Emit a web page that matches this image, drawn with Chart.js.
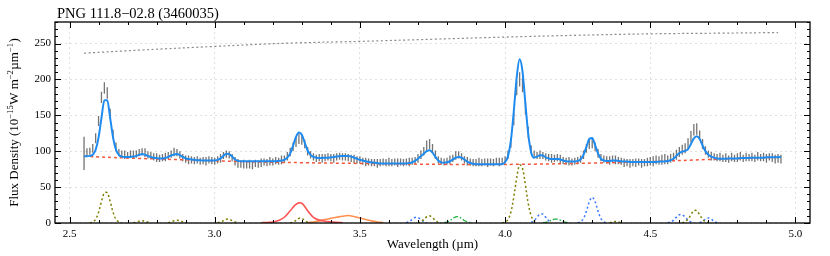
<!DOCTYPE html>
<html>
<head>
<meta charset="utf-8">
<script src="https://cdn.jsdelivr.net/npm/chart.js@4.4.1/dist/chart.umd.min.js"></script>
<style>
  html, body { margin: 0; padding: 0; background: #fff; }
</style>
</head>
<body>
<canvas id="spectrumChart" width="830" height="256"></canvas>
<script>
"use strict";

// Observed spectrum grid (µm)
const wavelength = [
  2.55, 2.56, 2.57, 2.58, 2.59, 2.60, 2.61, 2.62, 2.63, 2.64,
  2.65, 2.66, 2.67, 2.68, 2.69, 2.70, 2.71, 2.72, 2.73, 2.74,
  2.75, 2.76, 2.77, 2.78, 2.79, 2.80, 2.81, 2.82, 2.83, 2.84,
  2.85, 2.86, 2.87, 2.88, 2.89, 2.90, 2.91, 2.92, 2.93, 2.94,
  2.95, 2.96, 2.97, 2.98, 2.99, 3.00, 3.01, 3.02, 3.03, 3.04,
  3.05, 3.06, 3.07, 3.08, 3.09, 3.10, 3.11, 3.12, 3.13, 3.14,
  3.15, 3.16, 3.17, 3.18, 3.19, 3.20, 3.21, 3.22, 3.23, 3.24,
  3.25, 3.26, 3.27, 3.28, 3.29, 3.30, 3.31, 3.32, 3.33, 3.34,
  3.35, 3.36, 3.37, 3.38, 3.39, 3.40, 3.41, 3.42, 3.43, 3.44,
  3.45, 3.46, 3.47, 3.48, 3.49, 3.50, 3.51, 3.52, 3.53, 3.54,
  3.55, 3.56, 3.57, 3.58, 3.59, 3.60, 3.61, 3.62, 3.63, 3.64,
  3.65, 3.66, 3.67, 3.68, 3.69, 3.70, 3.71, 3.72, 3.73, 3.74,
  3.75, 3.76, 3.77, 3.78, 3.79, 3.80, 3.81, 3.82, 3.83, 3.84,
  3.85, 3.86, 3.87, 3.88, 3.89, 3.90, 3.91, 3.92, 3.93, 3.94,
  3.95, 3.96, 3.97, 3.98, 3.99, 4.00, 4.01, 4.02, 4.03, 4.04,
  4.05, 4.06, 4.07, 4.08, 4.09, 4.10, 4.11, 4.12, 4.13, 4.14,
  4.15, 4.16, 4.17, 4.18, 4.19, 4.20, 4.21, 4.22, 4.23, 4.24,
  4.25, 4.26, 4.27, 4.28, 4.29, 4.30, 4.31, 4.32, 4.33, 4.34,
  4.35, 4.36, 4.37, 4.38, 4.39, 4.40, 4.41, 4.42, 4.43, 4.44,
  4.45, 4.46, 4.47, 4.48, 4.49, 4.50, 4.51, 4.52, 4.53, 4.54,
  4.55, 4.56, 4.57, 4.58, 4.59, 4.60, 4.61, 4.62, 4.63, 4.64,
  4.65, 4.66, 4.67, 4.68, 4.69, 4.70, 4.71, 4.72, 4.73, 4.74,
  4.75, 4.76, 4.77, 4.78, 4.79, 4.80, 4.81, 4.82, 4.83, 4.84,
  4.85, 4.86, 4.87, 4.88, 4.89, 4.90, 4.91, 4.92, 4.93, 4.94,
  4.95
];

// Measured flux and its 1-sigma error
const fluxObs = [
  97, 99, 100, 104, 118, 142, 175, 188, 181, 152,
  124, 106, 98, 96, 95, 94, 96, 95, 96, 98,
  99, 98, 95, 94, 92, 91, 90, 91, 92, 94,
  96, 99, 98, 95, 91, 89, 88, 88, 87, 88,
  86, 87, 86, 88, 87, 86, 88, 90, 94, 96,
  95, 91, 86, 83, 82, 82, 81, 82, 80, 83,
  82, 84, 85, 84, 86, 85, 87, 86, 88, 89,
  93, 99, 106, 113, 117, 116, 110, 100, 95, 92,
  90, 91, 90, 91, 92, 91, 90, 92, 93, 92,
  92, 91, 90, 89, 88, 88, 86, 85, 85, 84,
  84, 83, 84, 85, 84, 85, 84, 85, 84, 85,
  84, 85, 85, 86, 87, 90, 95, 100, 108, 110,
  104, 95, 88, 86, 85, 86, 88, 90, 94, 95,
  92, 88, 86, 85, 84, 84, 85, 84, 85, 84,
  85, 84, 86, 85, 86, 88, 95, 112, 145, 188,
  200, 192, 160, 126, 102, 96, 94, 95, 94, 92,
  91, 90, 90, 91, 89, 87, 86, 86, 85, 86,
  87, 89, 95, 104, 110, 111, 106, 97, 91, 89,
  88, 87, 89, 88, 87, 86, 84, 84, 83, 84,
  84, 85, 83, 84, 85, 86, 86, 88, 87, 88,
  89, 88, 90, 92, 95, 99, 102, 104, 110, 120,
  130, 131, 122, 110, 101, 96, 93, 92, 91, 92,
  90, 91, 89, 92, 90, 91, 93, 90, 92, 91,
  92, 90, 93, 91, 92, 90, 92, 91, 89, 90,
  89
];

const fluxErr = [
  23, 5, 5, 6, 7, 7, 8, 8, 8, 7,
  6, 6, 5, 5, 6, 5, 5, 6, 5, 5,
  5, 6, 5, 5, 5, 6, 5, 5, 6, 5,
  5, 6, 5, 5, 5, 5, 6, 5, 5, 5,
  5, 5, 6, 5, 5, 5, 5, 6, 5, 5,
  5, 5, 6, 6, 5, 6, 5, 6, 5, 5,
  5, 6, 5, 5, 6, 5, 5, 5, 6, 5,
  6, 6, 6, 7, 7, 7, 6, 6, 5, 5,
  5, 5, 6, 5, 5, 5, 6, 5, 5, 5,
  5, 5, 5, 6, 5, 5, 5, 6, 5, 5,
  5, 6, 5, 5, 5, 6, 5, 5, 6, 5,
  5, 5, 6, 5, 5, 6, 6, 6, 7, 7,
  6, 6, 5, 5, 5, 5, 6, 5, 6, 5,
  5, 5, 6, 5, 5, 5, 6, 5, 5, 6,
  5, 5, 5, 6, 5, 5, 6, 7, 9, 10,
  10, 10, 9, 8, 6, 5, 5, 6, 5, 5,
  5, 6, 5, 5, 6, 5, 5, 6, 5, 5,
  5, 5, 6, 6, 7, 7, 6, 6, 5, 5,
  5, 6, 5, 6, 5, 5, 6, 5, 6, 5,
  6, 5, 6, 5, 6, 6, 7, 6, 6, 7,
  7, 6, 6, 6, 7, 7, 7, 7, 8, 8,
  8, 8, 7, 7, 6, 5, 6, 5, 5, 6,
  5, 6, 5, 6, 5, 6, 6, 5, 6, 5,
  6, 5, 6, 5, 6, 6, 5, 6, 6, 6,
  6
];

// Total model fit on the same grid
const fluxFit = [
  93, 93, 93.5, 95, 102, 119, 146, 171, 171, 146,
  119, 102, 95, 92.5, 92, 92, 92, 92.5, 93.5, 95,
  96, 95, 93.5, 92, 91, 90.5, 90, 90, 90.5, 92,
  94, 95.5, 96, 94.5, 92, 90, 89, 88.5, 88, 87.5,
  87.5, 87, 87, 87, 87, 87, 88, 90, 93.5, 96.5,
  96, 92.5, 88.5, 86.5, 86, 86, 86, 86, 86, 86,
  86, 86, 86, 86, 86, 86, 86, 86.5, 87, 88,
  91, 97, 108, 120, 126, 123, 112, 101, 95, 92,
  91, 90.5, 90.5, 91, 91, 91.5, 92, 92.5, 93, 93.5,
  93.5, 93.5, 92.5, 91, 89.5, 88, 87, 86, 85, 84.5,
  84, 83.5, 83, 83, 83, 83, 83, 83, 83, 83,
  83, 83, 83.5, 84.5, 86.5, 89.5, 93, 96.5, 100, 101.5,
  98, 92, 87, 84.5, 84, 84.5, 86, 88.5, 91, 92,
  91, 88.5, 85.5, 83.5, 82.5, 82, 82, 82, 82, 82,
  82, 82, 82, 82, 82, 85, 93, 115, 156, 203,
  228, 211, 166, 123, 98, 91, 92.5, 94.5, 94, 91.5,
  90, 89, 89, 89.5, 88.5, 87, 86, 85.5, 85.5, 85.5,
  86.5, 88.5, 95, 106, 117, 118.5, 108.5, 97, 89.5, 87,
  86.5, 86.5, 87, 87, 86.5, 86, 85.5, 85.5, 85, 85,
  85, 85, 85, 85, 85, 85, 85, 85, 85.5, 85.5,
  86, 86.5, 87.5, 89.5, 93.5, 97.5, 99.5, 100.5, 103, 110,
  118, 121, 117, 108, 100, 95, 92.5, 91, 90, 89.5,
  89.5, 89.5, 90, 90, 90, 90, 90.5, 90.5, 90.5, 90.5,
  91, 91, 91, 91, 91, 91.5, 91.5, 91.5, 91.5, 91.5,
  92
];

// Dust continuum (dashed red)
const contWave = [2.55, 2.7, 2.9, 3.1, 3.3, 3.5, 3.7, 3.9, 4.1, 4.3, 4.5, 4.7, 4.95];
const contFlux = [93, 90.5, 88, 85.5, 84, 83, 82, 81.5, 82, 83.5, 85.5, 88.5, 91.5];

// Stellar / blackbody curve (grey dotted)
const bbWave = [2.55, 2.75, 3.0, 3.25, 3.5, 3.75, 4.0, 4.25, 4.5, 4.75, 4.94];
const bbFlux = [236.5, 241, 246, 250.5, 253, 256, 259, 261.5, 263.5, 264.5, 265.3];

// H recombination lines (olive dotted), null breaks the line
const oliveWave = [
  2.57, 2.58, 2.59, 2.60, 2.61, 2.62, 2.63, 2.64, 2.65, 2.66, 2.67, 2.68, 2.70,
  2.72, 2.73, 2.74, 2.75, 2.76, 2.77, 2.78, 2.80,
  2.84, 2.85, 2.86, 2.87, 2.88, 2.89, 2.90, 2.95,
  3.01, 3.02, 3.03, 3.04, 3.05, 3.06, 3.07, 3.08, 3.15,
  3.26, 3.27, 3.28, 3.29, 3.30, 3.31, 3.32, 3.33, 3.50,
  3.70, 3.71, 3.72, 3.73, 3.74, 3.75, 3.76, 3.77, 3.78, 3.90,
  3.99, 4.00, 4.01, 4.02, 4.03, 4.04, 4.05, 4.06, 4.07, 4.08, 4.09, 4.10, 4.11, 4.25,
  4.36, 4.37, 4.38, 4.39, 4.40, 4.50,
  4.61, 4.62, 4.63, 4.64, 4.65, 4.66, 4.67, 4.68, 4.69, 4.70
];
const oliveFlux = [
  0.2, 1.3, 5.2, 15, 30, 42, 42, 30, 15, 5.2, 1.3, 0.2, null,
  0.3, 1.2, 2.4, 3, 2.4, 1.2, 0.3, null,
  0.4, 1.6, 3.2, 4, 3.2, 1.6, 0.4, null,
  0.4, 1.4, 3.3, 5.2, 5.2, 3.3, 1.4, 0.4, null,
  0.2, 1.1, 3.6, 6.5, 6.5, 3.6, 1.1, 0.2, null,
  0.4, 1.8, 4.9, 8.7, 10, 7.3, 3.4, 1, 0.2, null,
  0.2, 1.1, 4.8, 15.3, 36.3, 63, 81, 76, 52.5, 26.6, 9.9, 2.7, 0.55, null,
  0.5, 1.5, 2, 1.5, 0.5, null,
  0.35, 1.6, 5.3, 11.5, 17.1, 17.1, 11.5, 5.3, 1.6, 0.35
];

// Other ionic lines (blue dotted)
const blueWave = [
  3.66, 3.67, 3.68, 3.69, 3.70, 3.71, 3.72, 3.73, 3.90,
  4.09, 4.10, 4.11, 4.12, 4.13, 4.14, 4.15, 4.16, 4.20,
  4.25, 4.26, 4.27, 4.28, 4.29, 4.30, 4.31, 4.32, 4.33, 4.34, 4.35, 4.50,
  4.56, 4.57, 4.58, 4.59, 4.60, 4.61, 4.62, 4.63, 4.64, 4.65, 4.655,
  4.67, 4.68, 4.69, 4.70, 4.71, 4.72, 4.73
];
const blueFlux = [
  0.5, 2, 4.9, 7.6, 7.6, 4.9, 2, 0.5, null,
  0.9, 3.2, 7.9, 12.3, 12.3, 7.9, 3.2, 0.9, null,
  0.3, 1.6, 6.2, 16.5, 29.6, 36, 29.6, 16.5, 6.2, 1.6, 0.3, null,
  0.4, 1.4, 4.1, 8.2, 11.5, 11.5, 8.2, 4.1, 1.4, 0.4, null,
  0.5, 2.2, 5.2, 7, 5.2, 2.2, 0.5
];

// H2 lines (green dash-dot)
const greenWave = [
  3.79, 3.80, 3.81, 3.82, 3.83, 3.84, 3.85, 3.86, 3.87, 3.88, 4.00,
  4.13, 4.14, 4.15, 4.16, 4.17, 4.18, 4.19, 4.20, 4.21, 4.22
];
const greenFlux = [
  0.4, 1.4, 3.4, 6.4, 8.7, 8.7, 6.4, 3.4, 1.4, 0.4, null,
  0.25, 0.8, 2.1, 3.9, 5.3, 5.3, 3.9, 2.1, 0.8, 0.25
];

// 3.3 µm aromatic feature (red) and 3.4 µm aliphatic plateau (orange)
const aromWave = [3.16, 3.18, 3.20, 3.22, 3.24, 3.26, 3.27, 3.28, 3.29, 3.30,
  3.31, 3.32, 3.33, 3.34, 3.35, 3.36, 3.38, 3.40, 3.42, 3.44];
const aromFlux = [0.3, 0.8, 1.5, 3.5, 8, 17, 22, 26, 28, 27.5,
  23, 17, 12, 8, 5.5, 4, 2.5, 1.6, 1, 0.5];
const aliphWave = [3.32, 3.34, 3.36, 3.38, 3.40, 3.42, 3.44, 3.46, 3.48, 3.50,
  3.52, 3.54, 3.56, 3.58];
const aliphFlux = [0.5, 1.5, 3, 5, 6.5, 8, 9.5, 10.5, 9, 7, 5, 3, 1.5, 0.5];

// Axis ticks
const xTickValues = [2.5, 3.0, 3.5, 4.0, 4.5, 5.0];
const yTickValues = [0, 50, 100, 150, 200, 250];

const titleText = "PNG 111.8\u221202.8 (3460035)";
const xTitleText = "Wavelength (\u00b5m)";

const serif = "'Liberation Serif', 'DejaVu Serif', serif";

// Pair up x and y lists for Chart.js
const toPoints = (xs, ys) => xs.map((x, i) => ({ x, y: ys[i] }));

// Vertical error bars as separate little segments
const errorSegments = [];
wavelength.forEach((w, i) => {
  errorSegments.push({ x: w, y: fluxObs[i] - fluxErr[i] });
  errorSegments.push({ x: w, y: fluxObs[i] + fluxErr[i] });
  errorSegments.push({ x: w, y: null });
});

// Frame with inward ticks on all sides, plus title and y label
const framePlugin = {
  id: "frame",
  afterDraw(chart) {
    const { ctx, chartArea: a } = chart;
    const xs = chart.scales.x;
    const ys = chart.scales.y;
    ctx.save();

    ctx.strokeStyle = "#000";
    ctx.lineWidth = 1;
    ctx.beginPath();
    // x ticks every 0.1, major every 0.5
    for (let k = 25; k <= 50; k++) {
      const px = Math.round(xs.getPixelForValue(k / 10)) + 0.5;
      const len = k % 5 === 0 ? 6 : 3;
      ctx.moveTo(px, a.bottom); ctx.lineTo(px, a.bottom - len);
      ctx.moveTo(px, a.top); ctx.lineTo(px, a.top + len);
    }
    // y ticks every 10, major every 50
    for (let v = 0; v <= 280; v += 10) {
      const py = Math.round(ys.getPixelForValue(v)) + 0.5;
      const len = v % 50 === 0 ? 6 : 3;
      ctx.moveTo(a.left, py); ctx.lineTo(a.left + len, py);
      ctx.moveTo(a.right, py); ctx.lineTo(a.right - len, py);
    }
    ctx.stroke();

    ctx.lineWidth = 1.3;
    ctx.strokeRect(a.left, a.top, a.right - a.left, a.bottom - a.top);

    // Title
    ctx.fillStyle = "#000";
    ctx.textAlign = "left";
    ctx.textBaseline = "alphabetic";
    ctx.font = "14.5px " + serif;
    ctx.fillText(titleText, a.left + 2, 18);

    // x axis title
    ctx.textAlign = "center";
    ctx.font = "13px " + serif;
    ctx.fillText(xTitleText, (a.left + a.right) / 2, 248);

    // y axis title with superscripts
    const parts = [
      ["Flux Density (10", false],
      ["\u221215", true],
      ["W m", false],
      ["\u22122", true],
      ["\u00b5m", false],
      ["\u22121", true],
      [")", false]
    ];
    const big = "13px " + serif;
    const small = "8.5px " + serif;
    let total = 0;
    parts.forEach(([t, sup]) => {
      ctx.font = sup ? small : big;
      total += ctx.measureText(t).width + (sup ? 0.5 : 0);
    });
    ctx.translate(18, (a.top + a.bottom) / 2);
    ctx.rotate(-Math.PI / 2);
    ctx.textAlign = "left";
    let x = -total / 2;
    parts.forEach(([t, sup]) => {
      ctx.font = sup ? small : big;
      ctx.fillText(t, x, sup ? -5 : 0);
      x += ctx.measureText(t).width + (sup ? 0.5 : 0);
    });
    ctx.restore();
  }
};

const gridDash = [2, 3];

const ctx = document.getElementById("spectrumChart").getContext("2d");
new Chart(ctx, {
  type: "line",
  data: {
    datasets: [
      {
        label: "Fit",
        data: toPoints(wavelength, fluxFit),
        borderColor: "#1e8bf0",
        borderWidth: 2,
        cubicInterpolationMode: "monotone",
        order: 0
      },
      {
        label: "Continuum",
        data: toPoints(contWave, contFlux),
        borderColor: "#f4573a",
        borderWidth: 1.5,
        borderDash: [3, 3],
        tension: 0.4,
        order: 1
      },
      {
        label: "Data",
        data: errorSegments,
        borderColor: "rgba(70, 70, 70, 0.75)",
        borderWidth: 1.3,
        spanGaps: false,
        order: 2
      },
      {
        label: "Blackbody",
        data: toPoints(bbWave, bbFlux),
        borderColor: "#8a8a8a",
        borderWidth: 1.2,
        borderDash: [2, 2.5],
        tension: 0.4,
        order: 3
      },
      {
        label: "H lines",
        data: toPoints(oliveWave, oliveFlux),
        borderColor: "#7d7d00",
        borderWidth: 1.5,
        borderDash: [2, 2.5],
        tension: 0.35,
        spanGaps: false,
        order: 4
      },
      {
        label: "Ionic lines",
        data: toPoints(blueWave, blueFlux),
        borderColor: "#3a78ff",
        borderWidth: 1.5,
        borderDash: [2, 2.5],
        tension: 0.35,
        spanGaps: false,
        order: 4
      },
      {
        label: "H2 lines",
        data: toPoints(greenWave, greenFlux),
        borderColor: "#20b040",
        borderWidth: 1.3,
        borderDash: [5, 2, 1.5, 2],
        tension: 0.35,
        spanGaps: false,
        order: 4
      },
      {
        label: "3.3 um",
        data: toPoints(aromWave, aromFlux),
        borderColor: "#ff5555",
        borderWidth: 1.6,
        tension: 0.35,
        order: 4
      },
      {
        label: "3.4 um",
        data: toPoints(aliphWave, aliphFlux),
        borderColor: "#ff9050",
        borderWidth: 1.6,
        tension: 0.35,
        order: 4
      }
    ]
  },
  options: {
    responsive: false,
    animation: false,
    parsing: true,
    layout: { padding: { top: 22, right: 20, left: 0, bottom: 0 } },
    elements: { point: { radius: 0, hoverRadius: 0 } },
    plugins: {
      legend: { display: false },
      tooltip: { enabled: false }
    },
    scales: {
      x: {
        type: "linear",
        min: 2.45,
        max: 5.05,
        afterFit: (scale) => { scale.height = 33; },
        afterBuildTicks: (scale) => { scale.ticks = xTickValues.map((v) => ({ value: v })); },
        grid: { color: "#d8d8d8", lineWidth: 0.8, drawTicks: false },
        border: { display: false, dash: gridDash },
        ticks: {
          padding: 5,
          color: "#000",
          font: { family: serif, size: 11 },
          callback: (v) => Number(v).toFixed(1)
        }
      },
      y: {
        type: "linear",
        min: 0,
        max: 280,
        afterFit: (scale) => { scale.width = 55; },
        afterBuildTicks: (scale) => { scale.ticks = yTickValues.map((v) => ({ value: v })); },
        grid: { color: "#d8d8d8", lineWidth: 0.8, drawTicks: false },
        border: { display: false, dash: gridDash },
        ticks: {
          padding: 4,
          color: "#000",
          font: { family: serif, size: 11 },
          callback: (v) => String(v)
        }
      }
    }
  },
  plugins: [framePlugin]
});
</script>
</body>
</html>
